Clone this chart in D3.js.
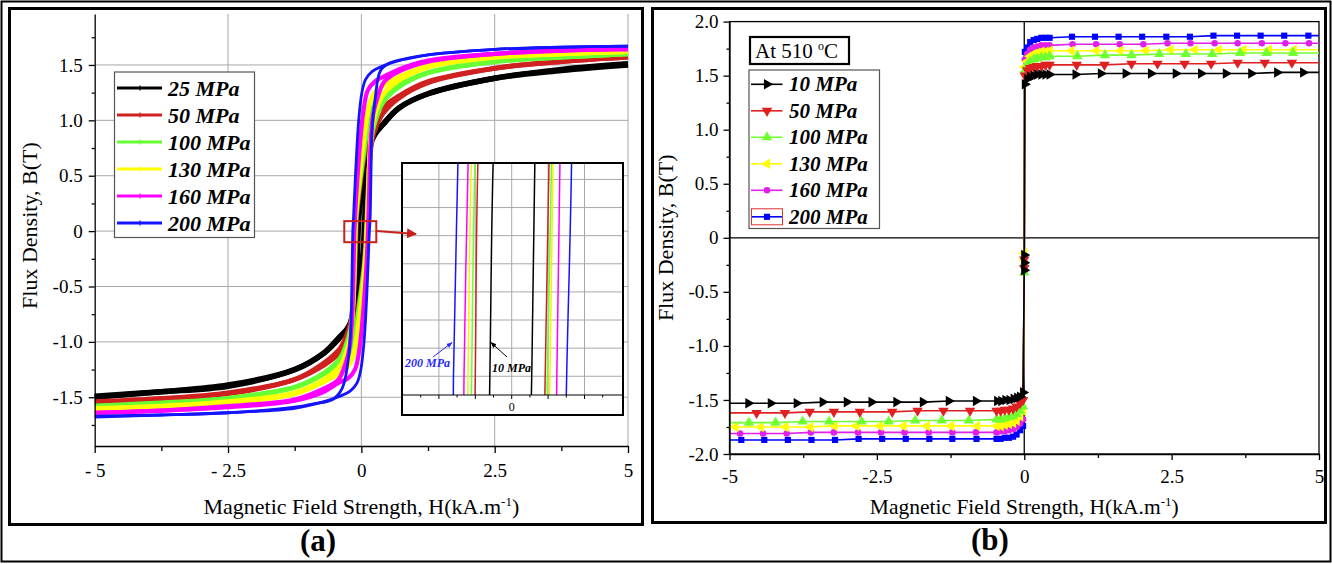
<!DOCTYPE html>
<html lang="en">
<head>
<meta charset="utf-8">
<title>Flux density vs magnetic field strength</title>
<script src="https://d3js.org/d3.v7.min.js"></script>
<style>
  body { margin: 0; background: #fff; }
  svg { font-family: "Liberation Serif", "Times New Roman", serif; }
  .grid line { stroke: #a8a8a8; stroke-width: 1; }
  .ax path, .ax line { stroke: #000; stroke-width: 1.3; }
  .ax text { font-size: 19px; fill: #000; font-family: "Liberation Serif", serif; }
  .leg text { font-weight: bold; font-style: italic; fill: #000; }
</style>
</head>
<body>
<svg id="fig" width="1332" height="564"></svg>
<script>
// ---------- panel (a) data: loops for 25..200 MPa ----------
// upper branch: H from +5 down to -5, lower branch: H from -5 up to +5
var aNames = ["25 MPa", "50 MPa", "100 MPa", "130 MPa", "160 MPa", "200 MPa"];
var aColors = ["#000000", "#d02020", "#66ff33", "#ffff00", "#ff00ff", "#1414ff"];
var aWidths = [5.5, 4.8, 4.8, 4.8, 4.2, 2.8];

var a25Upper = [[5,1.51],[3.75,1.46],[2.5,1.38],[1.25,1.24],[0.7,1.11],[0.4,0.96],[0.22,0.85],[0.1,0.7],[0.02,0.42],[-0.03,0.2],[-0.05,0.12],[-0.06,0],[-0.075,-0.2],[-0.1,-0.5],[-0.16,-0.76],[-0.26,-0.88],[-0.4,-0.95],[-0.7,-1.1],[-1.25,-1.25],[-2.5,-1.4],[-3.75,-1.45],[-5,-1.49]];
var a25Lower = [[-5,-1.5],[-3.75,-1.45],[-2.5,-1.39],[-1.25,-1.25],[-0.7,-1.1],[-0.4,-0.96],[-0.22,-0.85],[-0.1,-0.7],[-0.02,-0.42],[0.03,-0.2],[0.045,-0.1],[0.055,0],[0.064,0.12],[0.08,0.3],[0.1,0.5],[0.16,0.76],[0.26,0.88],[0.4,0.96],[0.7,1.11],[1.25,1.24],[2.5,1.38],[3.75,1.45],[5,1.5]];

var a50Upper = [[5,1.57],[3.75,1.53],[2.5,1.47],[1.25,1.35],[0.7,1.22],[0.4,1.12],[0.25,1.05],[0.15,0.95],[0.06,0.7],[-0.04,0.35],[-0.092,0.12],[-0.1,0],[-0.115,-0.25],[-0.14,-0.55],[-0.2,-0.82],[-0.3,-0.97],[-0.4,-1.06],[-0.7,-1.19],[-1.25,-1.34],[-2.5,-1.46],[-3.75,-1.51],[-5,-1.54]];
var a50Lower = [[-5,-1.55],[-3.75,-1.52],[-2.5,-1.47],[-1.25,-1.34],[-0.7,-1.21],[-0.4,-1.1],[-0.25,-1.04],[-0.15,-0.93],[-0.06,-0.7],[0.04,-0.35],[0.08,-0.12],[0.092,0],[0.103,0.12],[0.12,0.3],[0.145,0.55],[0.2,0.82],[0.3,0.97],[0.4,1.06],[0.7,1.2],[1.25,1.34],[2.5,1.47],[3.75,1.53],[5,1.57]];

var a100Upper = [[5,1.6],[3.75,1.57],[2.5,1.53],[1.25,1.43],[0.7,1.32],[0.4,1.23],[0.25,1.16],[0.15,1.05],[0.06,0.76],[-0.05,0.36],[-0.1,0.12],[-0.11,0],[-0.125,-0.25],[-0.15,-0.6],[-0.2,-0.88],[-0.3,-1.05],[-0.4,-1.15],[-0.7,-1.28],[-1.25,-1.41],[-2.5,-1.51],[-3.75,-1.55],[-5,-1.58]];
var a100Lower = [[-5,-1.58],[-3.75,-1.56],[-2.5,-1.51],[-1.25,-1.41],[-0.7,-1.29],[-0.4,-1.2],[-0.25,-1.14],[-0.15,-1.03],[-0.06,-0.75],[0.05,-0.35],[0.088,-0.12],[0.098,0],[0.11,0.12],[0.125,0.3],[0.15,0.6],[0.2,0.88],[0.3,1.05],[0.4,1.16],[0.7,1.3],[1.25,1.43],[2.5,1.53],[3.75,1.57],[5,1.6]];

var a130Upper = [[5,1.62],[3.75,1.6],[2.5,1.57],[1.25,1.49],[0.7,1.39],[0.4,1.31],[0.25,1.25],[0.15,1.14],[0.05,0.85],[-0.06,0.38],[-0.11,0.12],[-0.12,0],[-0.135,-0.3],[-0.16,-0.7],[-0.2,-0.95],[-0.3,-1.12],[-0.4,-1.22],[-0.7,-1.34],[-1.25,-1.46],[-2.5,-1.54],[-3.75,-1.58],[-5,-1.6]];
var a130Lower = [[-5,-1.61],[-3.75,-1.59],[-2.5,-1.55],[-1.25,-1.47],[-0.7,-1.36],[-0.4,-1.28],[-0.25,-1.22],[-0.15,-1.12],[-0.05,-0.84],[0.06,-0.38],[0.095,-0.12],[0.105,0],[0.114,0.12],[0.13,0.3],[0.16,0.7],[0.2,0.95],[0.3,1.12],[0.4,1.23],[0.7,1.36],[1.25,1.48],[2.5,1.57],[3.75,1.6],[5,1.62]];

var a160Upper = [[5,1.64],[3.75,1.63],[2.5,1.6],[1.25,1.54],[0.7,1.46],[0.4,1.39],[0.25,1.35],[0.12,1.27],[0.03,1.05],[-0.07,0.5],[-0.119,0.12],[-0.131,0],[-0.145,-0.3],[-0.17,-0.75],[-0.22,-1.05],[-0.3,-1.2],[-0.43,-1.34],[-0.7,-1.42],[-1.25,-1.52],[-2.5,-1.58],[-3.75,-1.62],[-5,-1.64]];
var a160Lower = [[-5,-1.64],[-3.75,-1.62],[-2.5,-1.59],[-1.25,-1.53],[-0.7,-1.45],[-0.43,-1.37],[-0.25,-1.33],[-0.12,-1.25],[-0.03,-1.04],[0.07,-0.5],[0.115,-0.12],[0.124,0],[0.133,0.12],[0.145,0.3],[0.17,0.75],[0.22,1.05],[0.3,1.2],[0.43,1.35],[0.7,1.44],[1.25,1.53],[2.5,1.6],[3.75,1.63],[5,1.65]];

var a200Upper = [[5,1.67],[3.75,1.66],[2.5,1.64],[1.25,1.59],[0.7,1.54],[0.4,1.49],[0.2,1.44],[0.08,1.37],[0.01,1.25],[-0.05,1.0],[-0.1,0.6],[-0.135,0.25],[-0.147,0.12],[-0.16,0],[-0.175,-0.4],[-0.2,-0.9],[-0.25,-1.18],[-0.36,-1.42],[-0.54,-1.52],[-0.9,-1.56],[-1.25,-1.59],[-2.5,-1.64],[-3.75,-1.66],[-5,-1.67]];
var a200Lower = [[-5,-1.68],[-3.75,-1.66],[-2.5,-1.64],[-1.25,-1.6],[-0.7,-1.54],[-0.4,-1.49],[-0.2,-1.44],[-0.08,-1.37],[-0.01,-1.25],[0.05,-1.0],[0.1,-0.6],[0.14,-0.12],[0.151,0],[0.165,0.12],[0.18,0.5],[0.2,0.91],[0.26,1.2],[0.36,1.45],[0.54,1.52],[0.9,1.56],[1.25,1.59],[2.5,1.64],[3.75,1.66],[5,1.67]];

var aUpper = [a25Upper, a50Upper, a100Upper, a130Upper, a160Upper, a200Upper];
var aLower = [a25Lower, a50Lower, a100Lower, a130Lower, a160Lower, a200Lower];

var aXTicks = [-5, -2.5, 0, 2.5, 5];
var aXLabels = ["- 5", "- 2.5", "0", "2.5", "5"];
var xMinor = [-3.75, -1.25, 1.25, 3.75];
var aYTicks = [-1.5, -1, -0.5, 0, 0.5, 1, 1.5];
var aYLabels = ["-1.5", "-1.0", "-0.5", "0", "0.5", "1.0", "1.5"];
var aYMinor = [-1.75, -1.25, -0.75, -0.25, 0.25, 0.75, 1.25, 1.75];
var aGridX = [-2.5, 0, 2.5, 5];
var insetTicks = [-0.25, -0.2, -0.15, -0.1, -0.05, 0, 0.05, 0.1, 0.15, 0.2, 0.25];
var insetGridX = [-0.2, -0.1, 0, 0.1, 0.2];
var insetGridY = [0, 0.015, 0.03, 0.045, 0.06, 0.075, 0.09, 0.105];

// ---------- panel (b) data: 510 C, 10..200 MPa ----------
var bNames = ["10 MPa", "50 MPa", "100 MPa", "130 MPa", "160 MPa", "200 MPa"];
var bColors = ["#000000", "#e02020", "#70ff30", "#ffff00", "#e020e8", "#0000ff"];

var b10 = [[-5,-1.53],[-4.68,-1.53],[-4.3,-1.53],[-3.86,-1.53],[-3.42,-1.52],[-3.01,-1.52],[-2.59,-1.52],[-2.17,-1.52],[-1.72,-1.52],[-1.28,-1.51],[-0.82,-1.51],
  [-0.46,-1.51],[-0.39,-1.51],[-0.32,-1.5],[-0.25,-1.5],[-0.18,-1.49],[-0.12,-1.48],[-0.07,-1.47],
  [-0.02,-1.43],[0,-0.3],[0,-0.23],[0,-0.16],[0.01,1.42],
  [0.05,1.47],[0.1,1.49],[0.16,1.5],[0.22,1.51],[0.29,1.51],[0.36,1.51],[0.43,1.51],
  [0.87,1.51],[1.3,1.52],[1.72,1.52],[2.15,1.52],[2.57,1.52],[3.0,1.52],[3.42,1.52],[3.85,1.52],[4.29,1.53],[4.73,1.53],[5,1.53]];
var b50 = [[-5,-1.62],[-4.54,-1.62],[-4.06,-1.62],[-3.64,-1.61],[-3.23,-1.61],[-2.79,-1.61],[-2.24,-1.61],[-1.81,-1.6],[-1.37,-1.6],[-0.92,-1.6],
  [-0.47,-1.6],[-0.4,-1.6],[-0.33,-1.59],[-0.26,-1.59],[-0.19,-1.58],[-0.13,-1.56],[-0.07,-1.53],
  [-0.02,-1.5],[0,-0.28],[0,-0.2],[0.01,1.5],
  [0.05,1.55],[0.1,1.57],[0.16,1.58],[0.22,1.59],[0.29,1.59],[0.36,1.6],[0.43,1.6],
  [0.89,1.6],[1.36,1.6],[1.82,1.61],[2.26,1.61],[2.72,1.61],[3.17,1.61],[3.62,1.62],[4.08,1.62],[4.54,1.62],[5,1.62]];
var b100 = [[-5,-1.71],[-4.67,-1.71],[-4.22,-1.71],[-3.76,-1.7],[-3.31,-1.7],[-2.76,-1.7],[-2.3,-1.7],[-1.85,-1.69],[-1.4,-1.69],[-0.94,-1.69],
  [-0.47,-1.68],[-0.4,-1.68],[-0.33,-1.67],[-0.26,-1.66],[-0.19,-1.65],[-0.13,-1.63],[-0.07,-1.6],
  [-0.02,-1.56],[0,-0.32],[0,-0.24],[0.01,1.55],
  [0.05,1.6],[0.1,1.63],[0.16,1.65],[0.22,1.66],[0.29,1.67],[0.36,1.67],[0.43,1.68],
  [0.9,1.68],[1.37,1.69],[1.82,1.69],[2.29,1.7],[2.74,1.7],[3.19,1.7],[3.66,1.71],[4.11,1.71],[4.56,1.71],[5,1.71]];
var b130 = [[-5,-1.75],[-4.9,-1.75],[-4.47,-1.75],[-4.05,-1.75],[-3.63,-1.75],[-3.22,-1.74],[-2.85,-1.74],[-2.45,-1.74],[-2.05,-1.74],[-1.65,-1.74],[-1.24,-1.74],[-0.8,-1.74],
  [-0.47,-1.74],[-0.4,-1.74],[-0.33,-1.73],[-0.26,-1.72],[-0.19,-1.71],[-0.13,-1.69],[-0.07,-1.65],
  [-0.02,-1.6],[0,-0.2],[0,-0.14],[0.01,1.58],
  [0.05,1.63],[0.1,1.68],[0.16,1.7],[0.22,1.71],[0.29,1.72],[0.36,1.72],[0.43,1.73],
  [0.8,1.73],[1.22,1.73],[1.63,1.73],[2.06,1.73],[2.48,1.74],[2.89,1.74],[3.3,1.74],[3.72,1.74],[4.15,1.74],[4.57,1.74],[4.98,1.74]];
var b160 = [[-5,-1.81],[-4.82,-1.81],[-4.43,-1.81],[-4.03,-1.81],[-3.62,-1.8],[-3.23,-1.8],[-2.82,-1.8],[-2.43,-1.8],[-2.03,-1.8],[-1.62,-1.8],[-1.22,-1.8],[-0.82,-1.8],
  [-0.47,-1.8],[-0.4,-1.79],[-0.33,-1.79],[-0.26,-1.78],[-0.19,-1.77],[-0.13,-1.75],[-0.07,-1.72],
  [-0.02,-1.68],[0,-0.22],[0.01,1.65],
  [0.05,1.7],[0.1,1.74],[0.16,1.76],[0.22,1.77],[0.29,1.78],[0.36,1.78],[0.43,1.78],
  [0.82,1.79],[1.22,1.79],[1.62,1.79],[2.02,1.79],[2.43,1.8],[2.82,1.8],[3.23,1.8],[3.62,1.8],[4.03,1.8],[4.43,1.8],[4.83,1.8],[5,1.8]];
var b200 = [[-5,-1.87],[-4.8,-1.87],[-4.41,-1.87],[-4.01,-1.87],[-3.61,-1.87],[-3.21,-1.87],[-2.81,-1.86],[-2.41,-1.86],[-2.01,-1.86],[-1.61,-1.86],[-1.22,-1.86],[-0.81,-1.86],
  [-0.47,-1.86],[-0.4,-1.86],[-0.33,-1.85],[-0.26,-1.85],[-0.19,-1.84],[-0.13,-1.82],[-0.07,-1.78],
  [-0.02,-1.74],[0,-0.25],[0.01,1.72],
  [0.05,1.76],[0.1,1.81],[0.16,1.83],[0.22,1.84],[0.29,1.85],[0.36,1.85],[0.43,1.85],
  [0.81,1.86],[1.2,1.86],[1.6,1.86],[2.0,1.86],[2.41,1.86],[2.81,1.86],[3.21,1.87],[3.61,1.87],[4.01,1.87],[4.41,1.87],[4.82,1.87],[5,1.87]];
var bSeries = [b10, b50, b100, b130, b160, b200];

var bXTicks = [-5, -2.5, 0, 2.5, 5];
var bXLabels = ["-5", "-2.5", "0", "2.5", "5"];
var bYTicks = [-2, -1.5, -1, -0.5, 0, 0.5, 1, 1.5, 2];
var bYLabels = ["-2.0", "-1.5", "-1.0", "-0.5", "0", "0.5", "1.0", "1.5", "2.0"];
var bYMinor = [-1.75, -1.25, -0.75, -0.25, 0.25, 0.75, 1.25, 1.75];

// marker shapes for panel (b): right, down, up, left triangles, circle, square
var bShapes = [
  { type: d3.symbolTriangle, rot: 90, size: 48 },
  { type: d3.symbolTriangle, rot: 180, size: 48 },
  { type: d3.symbolTriangle, rot: 0, size: 48 },
  { type: d3.symbolTriangle, rot: -90, size: 48 },
  { type: d3.symbolCircle, rot: 0, size: 34 },
  { type: d3.symbolSquare, rot: 0, size: 38 }
];

var svg = d3.select("#fig");

// outer frame and panel frames
svg.append("rect").attr("x", 1.5).attr("y", 1.5).attr("width", 1329).attr("height", 560)
  .attr("fill", "none").attr("stroke", "#000").attr("stroke-width", 2);
svg.append("rect").attr("x", 9.5).attr("y", 8.5).attr("width", 633).attr("height", 516)
  .attr("fill", "none").attr("stroke", "#000").attr("stroke-width", 3);
svg.append("rect").attr("x", 652.5).attr("y", 8.5).attr("width", 673).attr("height", 514)
  .attr("fill", "none").attr("stroke", "#000").attr("stroke-width", 3);

svg.append("defs").html(
  '<marker id="arrRed" viewBox="0 0 10 10" refX="9" refY="5" markerWidth="5" markerHeight="5" orient="auto">' +
  '<path d="M0,0 L10,5 L0,10 z" fill="#c8201c"/></marker>' +
  '<marker id="arrBlue" viewBox="0 0 10 10" refX="9" refY="5" markerWidth="6" markerHeight="6" orient="auto">' +
  '<path d="M0,1 L10,5 L0,9 z" fill="#2a2aff"/></marker>' +
  '<marker id="arrBlack" viewBox="0 0 10 10" refX="9" refY="5" markerWidth="6" markerHeight="6" orient="auto">' +
  '<path d="M0,1 L10,5 L0,9 z" fill="#000"/></marker>' +
  '<clipPath id="insetClip"><rect x="403" y="164" width="219" height="231"/></clipPath>'
);

// ================= panel (a) =================
var ax = d3.scaleLinear().domain([-5, 5]).range([94.7, 628]);
var ay = d3.scaleLinear().domain([-1.94, 1.96]).range([446, 14]);

var ga = svg.append("g");
var gridA = ga.append("g").attr("class", "grid");
gridA.selectAll("line.h").data(aYTicks).enter().append("line")
  .attr("x1", ax(-5)).attr("x2", ax(5)).attr("y1", d => ay(d)).attr("y2", d => ay(d));
gridA.selectAll("line.v").data(aGridX).enter().append("line")
  .attr("x1", d => ax(d)).attr("x2", d => ax(d)).attr("y1", ay(1.96)).attr("y2", ay(-1.94));

var lineA = d3.line().x(d => ax(d[0])).y(d => ay(d[1])).curve(d3.curveCatmullRom.alpha(0.5));
aUpper.forEach(function(s, i) {
  [s, aLower[i]].forEach(function(br) {
    ga.append("path").attr("d", lineA(br)).attr("fill", "none")
      .attr("stroke", aColors[i]).attr("stroke-width", aWidths[i]).attr("stroke-linejoin", "round");
  });
});

// axes
ga.append("g").attr("class", "ax").attr("transform", "translate(" + ax(-5) + ",0)")
  .call(d3.axisLeft(ay).tickValues(aYTicks).tickFormat((d, i) => aYLabels[i]).tickSize(6).tickSizeOuter(0).tickPadding(6));
ga.append("g").attr("class", "ax").attr("transform", "translate(" + ax(-5) + ",0)")
  .call(d3.axisLeft(ay).tickValues(aYMinor).tickFormat("").tickSize(3).tickSizeOuter(0))
  .select(".domain").remove();
ga.append("g").attr("class", "ax").attr("transform", "translate(0," + ay(-1.94) + ")")
  .call(d3.axisBottom(ax).tickValues(aXTicks).tickFormat((d, i) => aXLabels[i]).tickSize(7).tickSizeOuter(0).tickPadding(11));
ga.append("g").attr("class", "ax").attr("transform", "translate(0," + ay(-1.94) + ")")
  .call(d3.axisBottom(ax).tickValues(xMinor).tickFormat("").tickSize(5).tickSizeOuter(0))
  .select(".domain").remove();
ga.selectAll(".ax").attr("font-family", null).attr("font-size", null);

// titles
ga.append("text").attr("x", ax(0)).attr("y", 514).attr("text-anchor", "middle").attr("font-size", 22)
  .html('Magnetic Field Strength, H(kA.m<tspan dy="-8" font-size="13">-1</tspan><tspan dy="8">)</tspan>');
ga.append("text").attr("transform", "translate(37," + ay(0.05) + ") rotate(-90)")
  .attr("text-anchor", "middle").attr("font-size", 22).text("Flux Density, B(T)");
ga.append("text").attr("x", 318).attr("y", 551).attr("text-anchor", "middle")
  .attr("font-size", 31).attr("font-weight", "bold").text("(a)");

// zoom rectangle
ga.append("rect").attr("x", ax(-0.32)).attr("y", ay(0.09))
  .attr("width", ax(0.28) - ax(-0.32)).attr("height", ay(-0.1) - ay(0.09))
  .attr("fill", "none").attr("stroke", "#c8201c").attr("stroke-width", 2);

// legend (a)
var legA = ga.append("g").attr("class", "leg");
legA.append("rect").attr("x", 114.5).attr("y", 72).attr("width", 140).attr("height", 165.5)
  .attr("fill", "#fff").attr("stroke", "#555").attr("stroke-width", 1.2);
aNames.forEach(function(n, i) {
  var y = 88 + i * 27;
  legA.append("line").attr("x1", 117).attr("x2", 162).attr("y1", y).attr("y2", y)
    .attr("stroke", aColors[i]).attr("stroke-width", 3);
  legA.append("line").attr("x1", 140).attr("x2", 140).attr("y1", y - 2.5).attr("y2", y + 2.5)
    .attr("stroke", aColors[i]).attr("stroke-width", 1.2);
  legA.append("text").attr("x", 168).attr("y", y + 7.5).attr("font-size", 22).text(n);
});

// inset
var ix = d3.scaleLinear().domain([-0.3, 0.3]).range([402.5, 620.9]);
var iy = d3.scaleLinear().domain([-0.01, 0.1127]).range([395, 165]);
var gi = ga.append("g");
gi.append("rect").attr("x", 402).attr("y", 163).attr("width", 221).attr("height", 252)
  .attr("fill", "#fff").attr("stroke", "#000").attr("stroke-width", 2);
var gridI = gi.append("g").attr("class", "grid");
gridI.selectAll("line.h").data(insetGridY).enter().append("line")
  .attr("x1", 403).attr("x2", 622).attr("y1", d => iy(d)).attr("y2", d => iy(d));
gridI.selectAll("line.v").data(insetGridX).enter().append("line")
  .attr("x1", d => ix(d)).attr("x2", d => ix(d)).attr("y1", 164).attr("y2", iy(-0.01));
var lineI = d3.line().x(d => ix(d[0])).y(d => iy(d[1])).curve(d3.curveCatmullRom.alpha(0.5));
var gic = gi.append("g").attr("clip-path", "url(#insetClip)");
aUpper.forEach(function(s, i) {
  [s, aLower[i]].forEach(function(br) {
    gic.append("path").attr("d", lineI(br)).attr("fill", "none")
      .attr("stroke", aColors[i] === "#ffff00" ? "#f4f400" : aColors[i]).attr("stroke-width", 1.5);
  });
});
gi.append("line").attr("x1", 403).attr("x2", 622).attr("y1", iy(-0.01)).attr("y2", iy(-0.01))
  .attr("stroke", "#000").attr("stroke-width", 1.2);
gi.selectAll("line.t").data(insetTicks).enter().append("line")
  .attr("x1", d => ix(d)).attr("x2", d => ix(d)).attr("y1", iy(-0.01))
  .attr("y2", (d, i) => iy(-0.01) + (i % 2 === 1 ? 4 : 2.5))
  .attr("stroke", "#000").attr("stroke-width", 1);
gi.append("text").attr("x", ix(0)).attr("y", 411).attr("text-anchor", "middle")
  .attr("font-size", 12).text("0");
// inset annotations
gi.append("text").attr("x", 405).attr("y", 367).attr("font-size", 12).attr("font-weight", "bold")
  .attr("font-style", "italic").attr("fill", "#2a2aff").text("200 MPa");
gi.append("line").attr("x1", 433).attr("y1", 357).attr("x2", ix(-0.164)).attr("y2", iy(0.018))
  .attr("stroke", "#2a2aff").attr("stroke-width", 1).attr("marker-end", "url(#arrBlue)");
gi.append("text").attr("x", 492).attr("y", 372).attr("font-size", 12).attr("font-weight", "bold")
  .attr("font-style", "italic").attr("fill", "#000").text("10 MPa");
gi.append("line").attr("x1", 507).attr("y1", 357).attr("x2", ix(-0.057)).attr("y2", iy(0.018))
  .attr("stroke", "#000").attr("stroke-width", 1).attr("marker-end", "url(#arrBlack)");

ga.append("line").attr("x1", ax(0.28)).attr("y1", ay(0)).attr("x2", 416).attr("y2", 234)
  .attr("stroke", "#c8201c").attr("stroke-width", 2).attr("marker-end", "url(#arrRed)");

// ================= panel (b) =================
var bx = d3.scaleLinear().domain([-5, 5]).range([729.5, 1319]);
var by = d3.scaleLinear().domain([-2, 2]).range([454, 21.6]);
var gb = svg.append("g");

gb.append("rect").attr("x", bx(-5)).attr("y", by(2)).attr("width", bx(5) - bx(-5)).attr("height", by(-2) - by(2))
  .attr("fill", "none").attr("stroke", "#000").attr("stroke-width", 1.3);
gb.append("line").attr("x1", bx(-5)).attr("x2", bx(5)).attr("y1", by(0)).attr("y2", by(0))
  .attr("stroke", "#000").attr("stroke-width", 1.3);
gb.append("line").attr("x1", bx(0)).attr("x2", bx(0)).attr("y1", by(2)).attr("y2", by(-2))
  .attr("stroke", "#000").attr("stroke-width", 1.3);

var lineB = d3.line().x(d => bx(d[0])).y(d => by(d[1]));
var sym = function(i) { return d3.symbol().type(bShapes[i].type).size(bShapes[i].size)(); };
for (var i = bSeries.length - 1; i >= 0; i--) {
  var s = bSeries[i];
  gb.append("path").attr("d", lineB(s)).attr("fill", "none")
    .attr("stroke", bColors[i]).attr("stroke-width", 1.6);
  gb.append("g").selectAll("path").data(s.slice(1, s.length - 1)).enter().append("path")
    .attr("d", sym(i))
    .attr("transform", d => "translate(" + bx(d[0]) + "," + by(d[1]) + ") rotate(" + bShapes[i].rot + ")")
    .attr("fill", bColors[i]);
}

gb.append("g").attr("class", "ax").attr("transform", "translate(" + bx(-5) + ",0)")
  .call(d3.axisLeft(by).tickValues(bYTicks).tickFormat((d, i) => bYLabels[i]).tickSize(6).tickSizeOuter(0).tickPadding(5));
gb.append("g").attr("class", "ax").attr("transform", "translate(" + bx(-5) + ",0)")
  .call(d3.axisLeft(by).tickValues(bYMinor).tickFormat("").tickSize(3).tickSizeOuter(0))
  .select(".domain").remove();
gb.append("g").attr("class", "ax").attr("transform", "translate(0," + by(-2) + ")")
  .call(d3.axisBottom(bx).tickValues(bXTicks).tickFormat((d, i) => bXLabels[i]).tickSize(6).tickSizeOuter(0).tickPadding(10));
gb.append("g").attr("class", "ax").attr("transform", "translate(0," + by(-2) + ")")
  .call(d3.axisBottom(bx).tickValues(xMinor).tickFormat("").tickSize(4).tickSizeOuter(0))
  .select(".domain").remove();
gb.selectAll(".ax").attr("font-family", null).attr("font-size", null);

gb.append("text").attr("x", bx(0)).attr("y", 514).attr("text-anchor", "middle").attr("font-size", 21.5)
  .html('Magnetic Field Strength, H(kA.m<tspan dy="-8" font-size="13">-1</tspan><tspan dy="8">)</tspan>');
gb.append("text").attr("transform", "translate(673," + by(0) + ") rotate(-90)")
  .attr("text-anchor", "middle").attr("font-size", 22).text("Flux Density, B(T)");
gb.append("text").attr("x", 990).attr("y", 550).attr("text-anchor", "middle")
  .attr("font-size", 31).attr("font-weight", "bold").text("(b)");

// temperature box
gb.append("rect").attr("x", 750).attr("y", 37).attr("width", 99).attr("height", 27)
  .attr("fill", "#fff").attr("stroke", "#000").attr("stroke-width", 2.2);
gb.append("text").attr("x", 755).attr("y", 58).attr("font-size", 21)
  .html('At 510 <tspan dy="-8" font-size="12">o</tspan><tspan dy="8">C</tspan>');

// legend (b)
var legB = gb.append("g").attr("class", "leg");
legB.append("rect").attr("x", 749).attr("y", 70).attr("width", 130.5).attr("height", 158.5)
  .attr("fill", "#fff").attr("stroke", "#555").attr("stroke-width", 1.2);
bNames.forEach(function(n, i) {
  var y = 84.3 + i * 26.5;
  legB.append("line").attr("x1", 751).attr("x2", 782.5).attr("y1", y).attr("y2", y)
    .attr("stroke", bColors[i]).attr("stroke-width", 1.6);
  legB.append("path").attr("d", sym(i))
    .attr("transform", "translate(767," + y + ") rotate(" + bShapes[i].rot + ")")
    .attr("fill", bColors[i]);
  legB.append("text").attr("x", 789).attr("y", y + 7).attr("font-size", 21).text(n);
});
legB.append("rect").attr("x", 751.5).attr("y", 84.3 + 5 * 26.5 - 8).attr("width", 31).attr("height", 16)
  .attr("fill", "none").attr("stroke", "#e03030").attr("stroke-width", 1);
</script>
</body>
</html>
